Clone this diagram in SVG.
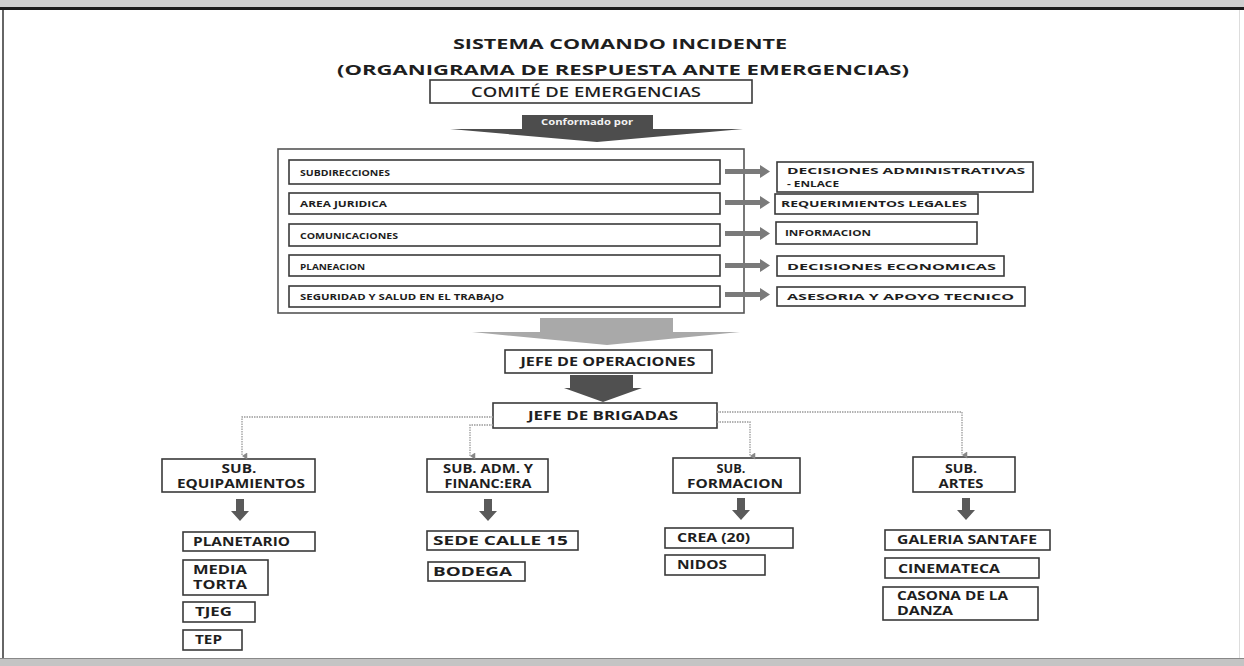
<svg xmlns="http://www.w3.org/2000/svg" width="1244" height="666" viewBox="0 0 1244 666">
<defs>
<style>
.t{font-family:"Open Sans","Liberation Sans",sans-serif;font-weight:700;fill:#1e1e1e}
.tr{font-family:"Open Sans","Liberation Sans",sans-serif;font-weight:600;fill:#1e1e1e}
.box{fill:#fff;stroke:#3a3a3a;stroke-width:1.6}
.obox{fill:none;stroke:#555;stroke-width:1.6}
.conn{fill:none;stroke:#9a9a9a;stroke-width:1.3;stroke-dasharray:1.5 1}
.rarr{fill:#7a7a7a}
.darr{fill:#5a5a5a}
.s9{font-size:9.5px}
.s11{font-size:11.5px}
</style>
<marker id="m" viewBox="0 0 8 8" refX="4" refY="7" markerWidth="7" markerHeight="7" markerUnits="userSpaceOnUse" orient="auto-start-reverse">
<path d="M0,1 L8,1 L4,7 Z" fill="#888"/>
</marker>
</defs>
<rect width="1244" height="666" fill="#fff"/>
<!-- scan border -->
<rect x="0" y="0" width="1244" height="7" fill="#cfcfcf"/>
<rect x="0" y="7" width="1244" height="3" fill="#1c1c1c"/>
<rect x="2" y="10" width="2" height="648" fill="#666"/>
<rect x="1239" y="10" width="1" height="648" fill="#ddd"/>
<rect x="0" y="658" width="1244" height="8" fill="#c4c4c4"/>
<rect x="0" y="658" width="1244" height="1" fill="#888"/>

<g id="title">
<text class="t" x="620" y="49" font-size="14" text-anchor="middle" textLength="334" lengthAdjust="spacingAndGlyphs">SISTEMA COMANDO INCIDENTE</text>
<text class="t" x="623" y="75" font-size="14" text-anchor="middle" textLength="572" lengthAdjust="spacingAndGlyphs">(ORGANIGRAMA DE RESPUESTA ANTE EMERGENCIAS)</text>
</g>

<g id="comite">
<rect class="box" x="430" y="80" width="322" height="23"/>
<text class="tr" x="586" y="97" font-size="14" text-anchor="middle" textLength="230" lengthAdjust="spacingAndGlyphs">COMITÉ DE EMERGENCIAS</text>
</g>

<g id="conformado">
<path d="M522,115 L653,115 L653,129 L743,129 L597,142 L450,129 L522,129 Z" fill="#4d4d4d"/>
<text x="587" y="125" font-family="Open Sans, Liberation Sans, sans-serif" font-weight="700" font-size="8.5" fill="#f2f2f2" text-anchor="middle" textLength="92" lengthAdjust="spacingAndGlyphs">Conformado por</text>
</g>

<g id="miembros">
<rect class="obox" x="278" y="149" width="466" height="164"/>
</g>

<g id="subdirecciones">
<rect class="box" x="289" y="160" width="431" height="24"/>
<text class="t s9" x="300" y="176" textLength="90" lengthAdjust="spacingAndGlyphs">SUBDIRECCIONES</text>
</g>
<g id="juridica">
<rect class="box" x="289" y="193" width="431" height="21"/>
<text class="t s9" x="300" y="207" textLength="87" lengthAdjust="spacingAndGlyphs">AREA JURIDICA</text>
</g>
<g id="comunicaciones">
<rect class="box" x="289" y="224" width="431" height="22"/>
<text class="t s9" x="300" y="239" textLength="98" lengthAdjust="spacingAndGlyphs">COMUNICACIONES</text>
</g>
<g id="planeacion">
<rect class="box" x="289" y="255" width="431" height="21"/>
<text class="t s9" x="300" y="270" textLength="65" lengthAdjust="spacingAndGlyphs">PLANEACION</text>
</g>
<g id="seguridad">
<rect class="box" x="289" y="286" width="431" height="21"/>
<text class="t s9" x="300" y="300" textLength="204" lengthAdjust="spacingAndGlyphs">SEGURIDAD Y SALUD EN EL TRABAJO</text>
</g>

<g id="dec-admin">
<rect class="box" x="777" y="162" width="256" height="30"/>
<text class="t s9" x="787" y="174" textLength="238" lengthAdjust="spacingAndGlyphs">DECISIONES ADMINISTRATIVAS</text>
<text class="t s9" x="787" y="187" textLength="52" lengthAdjust="spacingAndGlyphs">- ENLACE</text>
</g>
<g id="req-legales">
<rect class="box" x="775" y="194" width="203" height="20"/>
<text class="t s9" x="781" y="207" textLength="186" lengthAdjust="spacingAndGlyphs">REQUERIMIENTOS LEGALES</text>
</g>
<g id="informacion">
<rect class="box" x="776" y="222" width="201" height="22"/>
<text class="t s9" x="785" y="236" textLength="86" lengthAdjust="spacingAndGlyphs">INFORMACION</text>
</g>
<g id="dec-econ">
<rect class="box" x="777" y="256" width="227" height="20"/>
<text class="t s9" x="787" y="270" textLength="209" lengthAdjust="spacingAndGlyphs">DECISIONES ECONOMICAS</text>
</g>
<g id="asesoria">
<rect class="box" x="777" y="287" width="248" height="19"/>
<text class="t s9" x="787" y="300" textLength="227" lengthAdjust="spacingAndGlyphs">ASESORIA Y APOYO TECNICO</text>
</g>

<g id="flecha-operaciones">
<path d="M540,318 L673,318 L673,332 L740,332 L607,345 L472,332 L540,332 Z" fill="#a9a9a9"/>
</g>

<g id="jefe-operaciones">
<rect class="box" x="505" y="350" width="207" height="23"/>
<text class="t s11" x="608" y="366" text-anchor="middle" textLength="175" lengthAdjust="spacingAndGlyphs">JEFE DE OPERACIONES</text>
</g>

<g id="flecha-brigadas">
<path d="M570,375 L633,375 L633,388 L642,388 L603,402 L564,388 L570,388 Z" fill="#505050"/>
</g>

<g id="jefe-brigadas">
<rect class="box" x="493" y="403" width="224" height="25"/>
<text class="t s11" x="603" y="420" text-anchor="middle" textLength="150" lengthAdjust="spacingAndGlyphs">JEFE DE BRIGADAS</text>
</g>

<g id="sub-equipamientos">
<rect class="box" x="162" y="459" width="153" height="33"/>
<text class="t s11" x="239" y="473" text-anchor="middle" textLength="35" lengthAdjust="spacingAndGlyphs">SUB.</text>
<text class="t s11" x="241" y="488" text-anchor="middle" textLength="128" lengthAdjust="spacingAndGlyphs">EQUIPAMIENTOS</text>
</g>
<g id="sub-adm">
<rect class="box" x="427" y="459" width="121" height="33"/>
<text class="t s11" x="488" y="473" text-anchor="middle" textLength="90" lengthAdjust="spacingAndGlyphs">SUB. ADM. Y</text>
<text class="t s11" x="488" y="488" text-anchor="middle" textLength="87" lengthAdjust="spacingAndGlyphs">FINANC:ERA</text>
</g>
<g id="sub-formacion">
<rect class="box" x="673" y="458" width="127" height="35"/>
<text class="t s11" x="731" y="473" text-anchor="middle" textLength="29" lengthAdjust="spacingAndGlyphs">SUB.</text>
<text class="t s11" x="735" y="488" text-anchor="middle" textLength="96" lengthAdjust="spacingAndGlyphs">FORMACION</text>
</g>
<g id="sub-artes">
<rect class="box" x="913" y="457" width="102" height="35"/>
<text class="t s11" x="961" y="473" text-anchor="middle" textLength="32" lengthAdjust="spacingAndGlyphs">SUB.</text>
<text class="t s11" x="961" y="488" text-anchor="middle" textLength="45" lengthAdjust="spacingAndGlyphs">ARTES</text>
</g>

<g id="flechas-sub">
<path class="darr" d="M236,499 L244,499 L244,511 L249,511 L240,521 L231,511 L236,511 Z"/>
<path class="darr" d="M484,499 L492,499 L492,511 L497,511 L488,521 L479,511 L484,511 Z"/>
<path class="darr" d="M737,498 L745,498 L745,510 L750,510 L741,520 L732,510 L737,510 Z"/>
<path class="darr" d="M962,498 L970,498 L970,510 L975,510 L966,520 L957,510 L962,510 Z"/>
</g>

<g id="planetario">
<rect class="box" x="183" y="532" width="132" height="19"/>
<text class="t s11" x="193" y="546" textLength="97" lengthAdjust="spacingAndGlyphs">PLANETARIO</text>
</g>
<g id="media-torta">
<rect class="box" x="183" y="560" width="85" height="35"/>
<text class="t s11" x="193" y="574" textLength="54" lengthAdjust="spacingAndGlyphs">MEDIA</text>
<text class="t s11" x="193" y="589" textLength="54" lengthAdjust="spacingAndGlyphs">TORTA</text>
</g>
<g id="tjeg">
<rect class="box" x="183" y="602" width="72" height="20"/>
<text class="t s11" x="195" y="616" textLength="37" lengthAdjust="spacingAndGlyphs">TJEG</text>
</g>
<g id="tep">
<rect class="box" x="183" y="630" width="59" height="20"/>
<text class="t s11" x="195" y="644" textLength="27" lengthAdjust="spacingAndGlyphs">TEP</text>
</g>
<g id="sede-calle-15">
<rect class="box" x="427" y="531" width="151" height="19"/>
<text class="t s11" x="433" y="545" textLength="135" lengthAdjust="spacingAndGlyphs">SEDE CALLE 15</text>
</g>
<g id="bodega">
<rect class="box" x="428" y="562" width="97" height="19"/>
<text class="t s11" x="433" y="576" textLength="79" lengthAdjust="spacingAndGlyphs">BODEGA</text>
</g>
<g id="crea">
<rect class="box" x="665" y="528" width="128" height="20"/>
<text class="t s11" x="677" y="542" textLength="73" lengthAdjust="spacingAndGlyphs">CREA (20)</text>
</g>
<g id="nidos">
<rect class="box" x="665" y="555" width="100" height="20"/>
<text class="t s11" x="677" y="569" textLength="50" lengthAdjust="spacingAndGlyphs">NIDOS</text>
</g>
<g id="galeria">
<rect class="box" x="885" y="530" width="165" height="20"/>
<text class="t s11" x="897" y="544" textLength="140" lengthAdjust="spacingAndGlyphs">GALERIA SANTAFE</text>
</g>
<g id="cinemateca">
<rect class="box" x="885" y="558" width="154" height="20"/>
<text class="t s11" x="898" y="573" textLength="102" lengthAdjust="spacingAndGlyphs">CINEMATECA</text>
</g>
<g id="casona">
<rect class="box" x="883" y="587" width="155" height="33"/>
<text class="t s11" x="897" y="600" textLength="111" lengthAdjust="spacingAndGlyphs">CASONA DE LA</text>
<text class="t s11" x="897" y="615" textLength="56" lengthAdjust="spacingAndGlyphs">DANZA</text>
</g>

<g id="connectors">
<path class="rarr" d="M725,169 L760,169 L760,165 L770,171.5 L760,178 L760,174 L725,174 Z"/>
<path class="rarr" d="M725,200 L760,200 L760,196 L770,202.5 L760,209 L760,205 L725,205 Z"/>
<path class="rarr" d="M725,231 L760,231 L760,227 L770,233.5 L760,240 L760,236 L725,236 Z"/>
<path class="rarr" d="M725,263 L760,263 L760,259 L770,265.5 L760,272 L760,268 L725,268 Z"/>
<path class="rarr" d="M725,292 L760,292 L760,288 L770,294.5 L760,301 L760,297 L725,297 Z"/>
<polyline class="conn" points="493,417 242,417 242,456" marker-end="url(#m)"/>
<polyline class="conn" points="493,425 470,425 470,456" marker-end="url(#m)"/>
<polyline class="conn" points="717,422 750,422 750,456" marker-end="url(#m)"/>
<polyline class="conn" points="717,412 962,412 962,455" marker-end="url(#m)"/>
</g>
</svg>
